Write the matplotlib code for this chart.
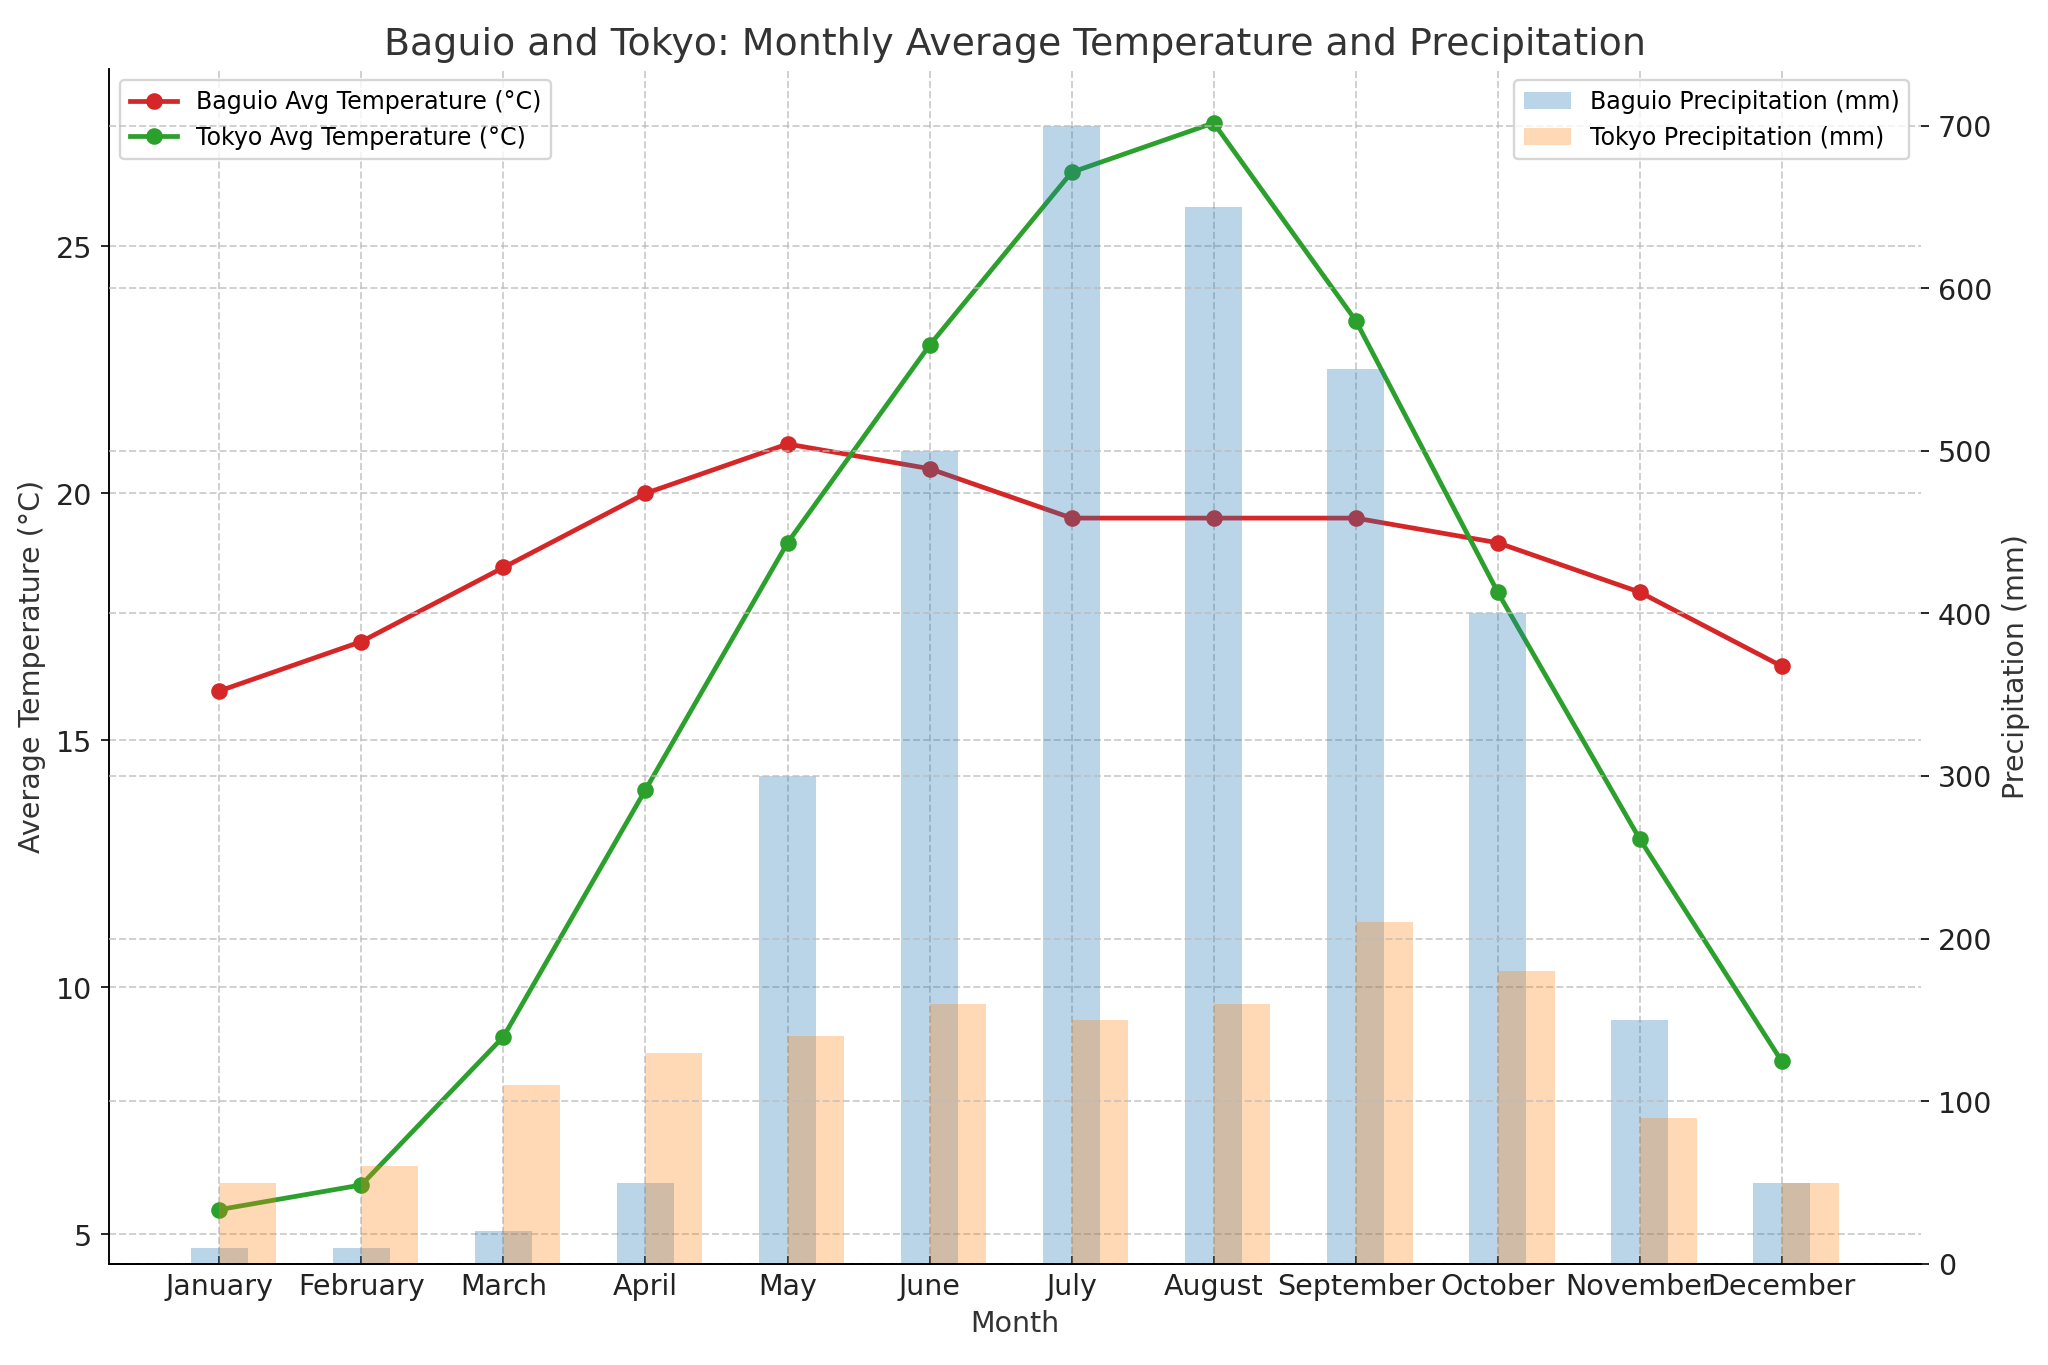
import matplotlib.pyplot as plt
import numpy as np

months = ["January", "February", "March", "April", "May", "June",
          "July", "August", "September", "October", "November", "December"]
baguio_temp = [16, 17, 18.5, 20, 21, 20.5, 19.5, 19.5, 19.5, 19, 18, 16.5]
tokyo_temp = [5.5, 6, 9, 14, 19, 23, 26.5, 27.5, 23.5, 18, 13, 8.5]
baguio_precip = [10, 10, 20, 50, 300, 500, 700, 650, 550, 400, 150, 50]
tokyo_precip = [50, 60, 110, 130, 140, 160, 150, 160, 210, 180, 90, 50]

text_col = "#333333"
plt.rcParams['axes.spines.top'] = False
plt.rcParams['axes.spines.right'] = False

x = np.arange(len(months))

fig, ax1 = plt.subplots(figsize=(12, 8), dpi=170.67)

ax1.plot(x, baguio_temp, color="#d62728", marker="o", linewidth=2, markersize=6,
         label="Baguio Avg Temperature (°C)")
ax1.plot(x, tokyo_temp, color="#2ca02c", marker="o", linewidth=2, markersize=6,
         label="Tokyo Avg Temperature (°C)")
ax1.set_xlabel("Month", fontsize=12, color=text_col)
ax1.set_ylabel("Average Temperature (°C)", fontsize=12, color=text_col)
ax1.set_xticks(x)
ax1.set_xticklabels(months)
ax1.tick_params(axis='x', direction='in', labelsize=12, colors='#222222')
ax1.tick_params(axis='y', labelsize=12, colors='#222222')
ax1.grid(True, linestyle='--', color='#bbbbbb', alpha=0.7)
ax1.legend(loc='upper left', fontsize=10)

ax2 = ax1.twinx()
ax2.bar(x, baguio_precip, width=0.4, color="#1f77b4", alpha=0.3,
        label="Baguio Precipitation (mm)")
ax2.bar(x, tokyo_precip, width=0.4, align='edge', color="#ff7f0e", alpha=0.3,
        label="Tokyo Precipitation (mm)")
ax2.set_ylabel("Precipitation (mm)", fontsize=12, color=text_col)
ax2.tick_params(axis='y', labelsize=12, colors='#222222')
ax2.spines['left'].set_visible(False)
ax2.spines['bottom'].set_visible(True)
ax2.grid(True, linestyle='--', color='#bbbbbb', alpha=0.7)
ax2.legend(loc='upper right', fontsize=10)

ax1.set_title("Baguio and Tokyo: Monthly Average Temperature and Precipitation",
              fontsize=16, color=text_col)

plt.subplots_adjust(left=0.053, right=0.938, top=0.9495, bottom=0.074)
plt.savefig("out.png", dpi=170.67)
